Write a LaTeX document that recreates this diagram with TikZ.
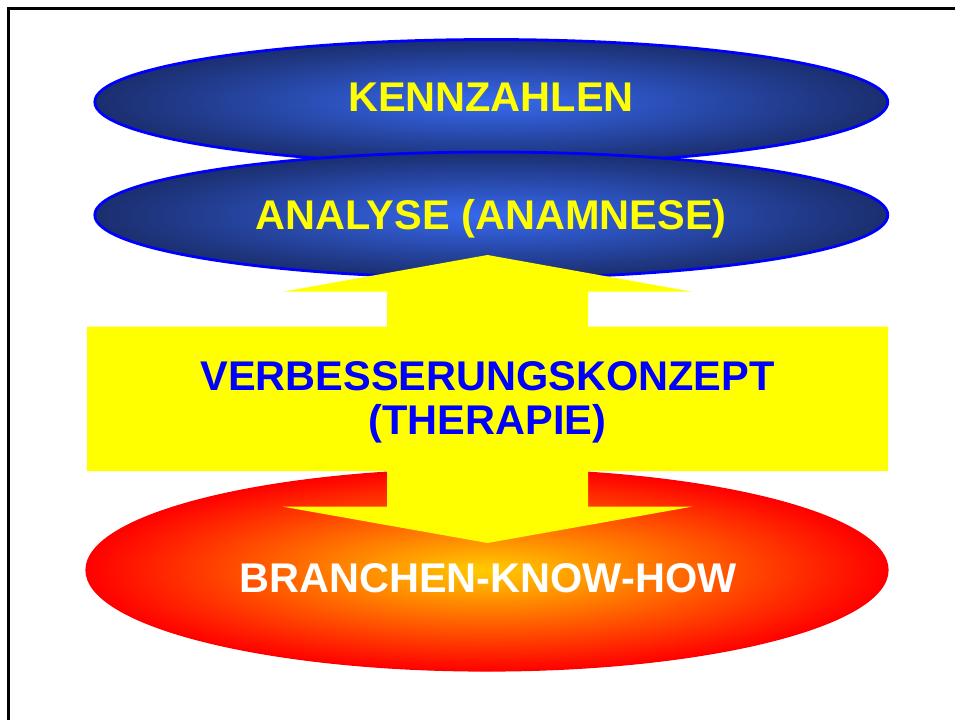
\documentclass[tikz,border=0pt]{standalone}
\usepackage{fontspec}
\setmainfont{Liberation Sans}
\usetikzlibrary{shapes.geometric}
\definecolor{blin}{RGB}{55,105,240}
\definecolor{blout}{RGB}{27,46,110}
\definecolor{rdin}{RGB}{255,204,0}
\definecolor{rdout}{RGB}{255,0,0}
\definecolor{yel}{RGB}{255,255,0}
\definecolor{bltext}{RGB}{0,0,255}
\tikzset{
  blueell/.style={ellipse, inner sep=0pt, shade, inner color=blin, outer color=blout, draw=bltext, line width=2.8pt},
  redell/.style={ellipse, inner sep=0pt, shade, inner color=rdin, outer color=rdout, draw=rdout, line width=1.2pt},
  lbl/.style={anchor=base, inner sep=0pt, font=\bfseries\fontsize{41.5}{45}\selectfont},
}
\begin{document}
\begin{tikzpicture}[x=1pt,y=-1pt]
\useasboundingbox (0,0) rectangle (955,720);
\draw[line width=2.6pt] (8.7,720) -- (8.7,8.7) -- (955,8.7);
\node[blueell, minimum width=793pt, minimum height=125pt] (kz) at (491.3,102) {};
\node[blueell, minimum width=793pt, minimum height=126pt] (an) at (491.3,215) {};
\node[redell, minimum width=802pt, minimum height=202pt] (br) at (487,570) {};
\fill[yel] (487.5,255) coordinate (tip1) -- (692,291.7) -- (588,291.7) -- (588,326.5) -- (888,326.5) -- (888,471) -- (588,471) -- (588,506.7) -- (692,506.7) -- (487.5,543) coordinate (tip2) -- (283,506.7) -- (387,506.7) -- (387,471) -- (87,471) -- (87,326.5) -- (387,326.5) -- (387,291.7) -- (283,291.7) -- cycle;
\node[lbl, text=yel] (t1) at (491,111) {KENNZAHLEN};
\node[lbl, text=yel] (t2) at (491,229) {ANALYSE (ANAMNESE)};
\node[lbl, text=bltext] (t3) at (487.5,390) {VERBESSERUNGSKONZEPT};
\node[lbl, text=bltext] (t4) at (487.5,434) {(THERAPIE)};
\node[lbl, text=white] (t5) at (488,592) {BRANCHEN-KNOW-HOW};
\end{tikzpicture}
\end{document}
